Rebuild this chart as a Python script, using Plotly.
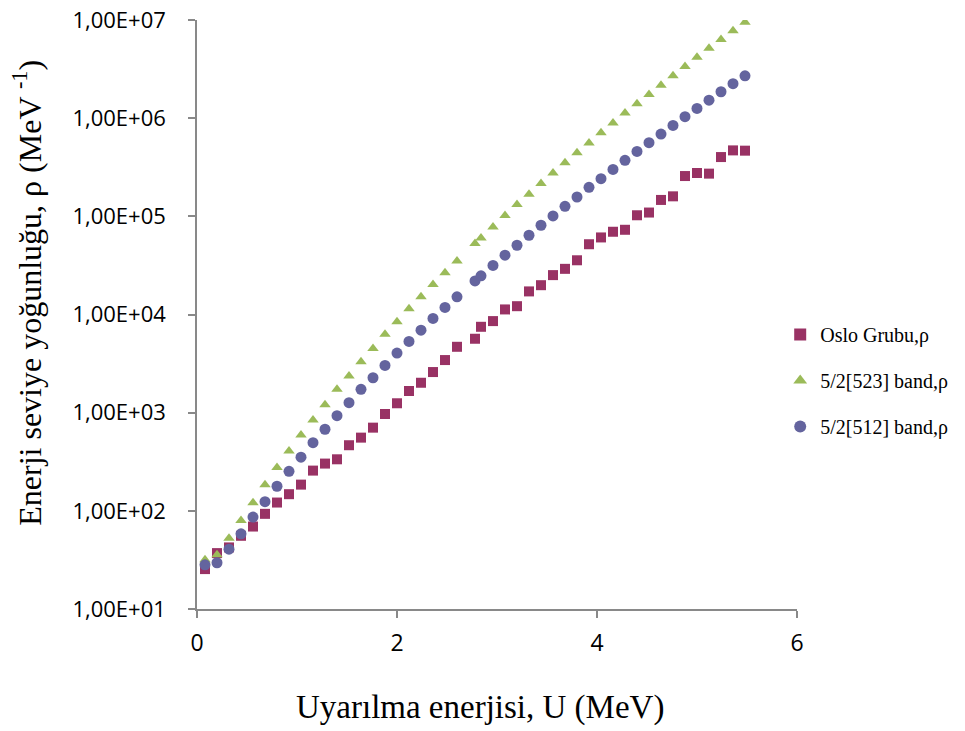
import plotly.graph_objects as go

# Excitation energy U (MeV)
energy = [0.08, 0.20, 0.32, 0.44, 0.56, 0.68, 0.80, 0.92, 1.04, 1.16, 1.28, 1.40,
          1.52, 1.64, 1.76, 1.88, 2.00, 2.12, 2.24, 2.36, 2.48, 2.60, 2.78, 2.84,
          2.96, 3.08, 3.20, 3.32, 3.44, 3.56, 3.68, 3.80, 3.92, 4.04, 4.16, 4.28,
          4.40, 4.52, 4.64, 4.76, 4.88, 5.00, 5.12, 5.24, 5.36, 5.48]

oslo = [25.5, 37.1, 42.4, 55.7, 69.2, 93.2, 121.5, 147.8, 185, 257, 303, 335,
        466, 557, 704, 970, 1247, 1663, 2018, 2594, 3436, 4691, 5665, 7500,
        8570, 11270, 12160, 17200, 19900, 25200, 29200, 35700, 52000, 61000, 69700, 73000,
        102600, 109400, 147000, 160000, 257500, 276500, 272500, 402000, 470000, 467000]

band523 = [31.7, 35.6, 52.7, 79.6, 121, 184, 276, 408, 593, 843, 1205, 1730,
           2360, 3300, 4520, 6280, 8430, 11430, 15150, 20200, 26600, 35200, 52800, 60300,
           78000, 101800, 131800, 167800, 216000, 276600, 352000, 445000, 558000, 713000, 892000, 1127000,
           1405000, 1747000, 2172000, 2704000, 3363000, 4184000, 5168000, 6330000, 7760000, 9510000]

band512 = [28.2, 29.6, 40.7, 58.3, 86.3, 124, 178, 253, 352, 495, 678, 931,
           1264, 1730, 2270, 3030, 4047, 5320, 6930, 9120, 11800, 15150, 22000, 24800,
           31600, 40200, 50800, 64200, 81200, 100900, 126700, 157500, 197600, 242000, 301000, 372000,
           459000, 563000, 689000, 845000, 1036000, 1258000, 1528000, 1860000, 2245000, 2706000]

series_names = ["Oslo Grubu,ρ", "5/2[523] band,ρ", "5/2[512] band,ρ"]

y_tickvals = [1e1, 1e2, 1e3, 1e4, 1e5, 1e6, 1e7]
y_ticktext = ["1,00E+01", "1,00E+02", "1,00E+03", "1,00E+04", "1,00E+05", "1,00E+06", "1,00E+07"]
x_tickvals = [0, 2, 4, 6]

x_title = "Uyarılma enerjisi, U (MeV)"
y_title = "Enerji seviye yoğunluğu, ρ (MeV <sup>-1</sup>)"

fig = go.Figure()
fig.add_trace(go.Scatter(x=energy, y=oslo, mode="markers", name=series_names[0],
                         legendgroup="a",
                         marker=dict(symbol="square", size=10, color="#993264")))
fig.add_trace(go.Scatter(x=energy, y=band523, mode="markers", name=series_names[1],
                         legendgroup="b",
                         marker=dict(symbol="triangle-up", size=10, color="#9BBB59")))
fig.add_trace(go.Scatter(x=energy, y=band512, mode="markers", name=series_names[2],
                         legendgroup="c",
                         marker=dict(symbol="circle", size=11, color="#64649E")))

axis_col = "#898989"
title_font = dict(family="Liberation Serif", size=33, color="black")
fig.update_layout(
    width=957, height=723,
    margin=dict(l=189, r=168, t=12, b=122, autoexpand=False),
    paper_bgcolor="white", plot_bgcolor="white",
    showlegend=True,
    legend=dict(x=0.972, xanchor="left", y=0.499, yanchor="top",
                traceorder="grouped", tracegroupgap=17,
                font=dict(family="Liberation Serif", size=20, color="black"),
                bgcolor="rgba(0,0,0,0)", itemsizing="constant"),
    xaxis=dict(range=[0, 6], tickvals=x_tickvals, showgrid=False, zeroline=False,
               showline=True, linecolor=axis_col, linewidth=1.5,
               ticks="outside", ticklen=7, tickcolor=axis_col, tickwidth=1.5,
               ticklabelstandoff=6,
               tickfont=dict(family="Open Sans", size=23, color="black")),
    yaxis=dict(type="log", range=[1, 7.0005], tickvals=y_tickvals, ticktext=y_ticktext,
               showgrid=False, zeroline=False, ticklabeloverflow="allow",
               showline=True, linecolor=axis_col, linewidth=1.5,
               ticks="outside", ticklen=7, tickcolor=axis_col, tickwidth=1.5,
               ticklabelstandoff=18,
               tickfont=dict(family="Open Sans", size=22, color="black")),
    annotations=[
        dict(text=x_title, xref="paper", yref="paper", x=0.471, y=-0.167,
             xanchor="center", yanchor="middle", showarrow=False, font=title_font),
        dict(text=y_title, xref="paper", yref="paper", x=-0.2833, y=0.537,
             xanchor="center", yanchor="middle", textangle=-90, showarrow=False,
             font=dict(family="Liberation Serif", size=32, color="black")),
    ],
)

fig.write_html("out.html")
